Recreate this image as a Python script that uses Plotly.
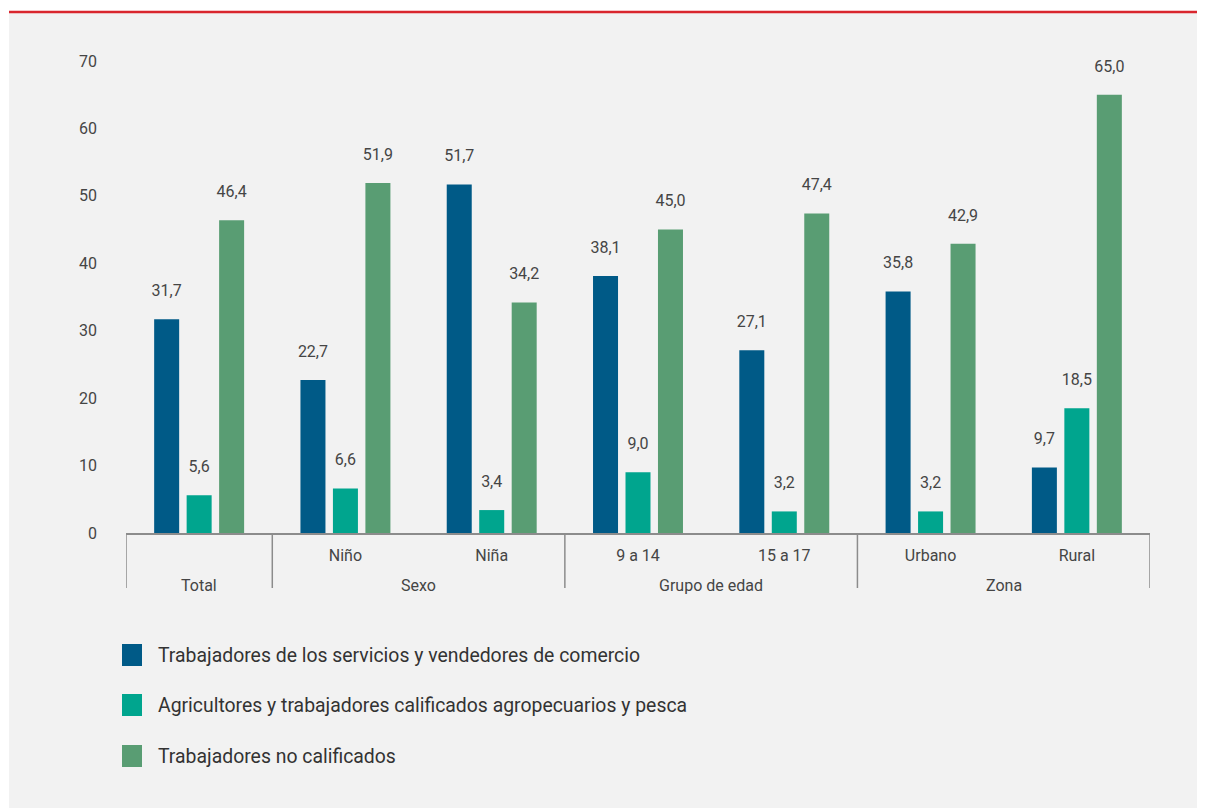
import plotly.graph_objects as go

# ---- data ----
groups = ["Total", "Sexo", "Sexo", "Grupo de edad", "Grupo de edad", "Zona", "Zona"]
categories = [" ", "Niño", "Niña", "9 a 14", "15 a 17", "Urbano", "Rural"]
series_names = [
    "Trabajadores de los servicios y vendedores de comercio",
    "Agricultores y trabajadores calificados agropecuarios y pesca",
    "Trabajadores no calificados",
]
servicios = [31.7, 22.7, 51.7, 38.1, 27.1, 35.8, 9.7]
agricultores = [5.6, 6.6, 3.4, 9.0, 3.2, 3.2, 18.5]
no_calificados = [46.4, 51.9, 34.2, 45.0, 47.4, 42.9, 65.0]
y_ticks = [0, 10, 20, 30, 40, 50, 60, 70]

colors = ["#005a87", "#00a58e", "#599d73"]
FONT = "Roboto, 'Open Sans', sans-serif"
TXT = "#454545"
AXC = "#8c8c8c"

# page body has an 8px margin: work in figure coordinates
W, H = 1197, 800
L, R, T, B = 118, 55, 53, 275
PW, PH = W - L - R, H - T - B
BARGAP = 0.334

def px_x(px):
    return (px - L) / PW

def px_y(py):
    return (H - B - py) / PH

fig = go.Figure()
for name, vals, col in zip(series_names, [servicios, agricultores, no_calificados], colors):
    fig.add_trace(go.Bar(
        x=categories, y=vals, name=name,
        marker=dict(color=col, line=dict(width=0)),
        showlegend=False, hoverinfo="skip",
    ))
for name, vals in zip(series_names, [servicios, agricultores, no_calificados]):
    fig.add_trace(go.Scatter(
        x=categories, y=vals, name=name + " (valor)", orientation="v",
        mode="markers+text", marker=dict(size=29, opacity=0),
        texttemplate="%{y:.1f}", textposition="top center",
        textfont=dict(family=FONT, size=16, color=TXT),
        cliponaxis=False, showlegend=False, hoverinfo="skip",
    ))

shapes = [
    dict(type="rect", xref="paper", yref="paper", layer="below",
         x0=px_x(1), x1=px_x(W + 5), y0=px_y(H + 5), y1=px_y(5),
         fillcolor="#f2f2f2", line=dict(width=0)),
    dict(type="line", xref="paper", yref="paper",
         x0=px_x(1), x1=px_x(W + 5), y0=px_y(4), y1=px_y(4),
         line=dict(color="#d9262e", width=2.5)),
]
annotations = []

# group separators and group labels
bounds = [-0.5]
for i in range(1, len(groups)):
    if groups[i] != groups[i - 1]:
        bounds.append(i - 0.5)
bounds.append(len(groups) - 0.5)
div_bottom = -55 / PH
for b in bounds:
    shapes.append(dict(type="line", xref="x", yref="paper", x0=b, x1=b,
                       y0=0, y1=div_bottom, line=dict(color=AXC, width=1.5)))
seen = []
for g in groups:
    if g not in seen:
        seen.append(g)
for g in seen:
    idx = [i for i, gg in enumerate(groups) if gg == g]
    annotations.append(dict(xref="x", yref="paper", x=sum(idx) / len(idx), y=-52 / PH,
                            xanchor="center", yanchor="middle", showarrow=False,
                            text=g, font=dict(family=FONT, size=16, color=TXT)))

# legend
legend_rows = [647, 697, 748]
for name, col, yc in zip(series_names, colors, legend_rows):
    shapes.append(dict(type="rect", xref="paper", yref="paper",
                       x0=px_x(114), x1=px_x(134), y0=px_y(yc + 11), y1=px_y(yc - 11),
                       fillcolor=col, line=dict(width=0)))
    annotations.append(dict(xref="paper", yref="paper", x=px_x(148), y=px_y(yc),
                            xanchor="left", yanchor="middle", showarrow=False,
                            text=name, font=dict(family=FONT, size=19.4, color="#333333")))

fig.update_layout(
    width=W, height=H,
    margin=dict(l=L, r=R, t=T, b=B, pad=0),
    paper_bgcolor="white", plot_bgcolor="rgba(0,0,0,0)",
    barmode="group", bargap=BARGAP, bargroupgap=0.23,
    scattermode="group", scattergap=BARGAP,
    separators=",.",
    font=dict(family=FONT, color=TXT),
    shapes=shapes, annotations=annotations,
    showlegend=False,
)
fig.update_yaxes(range=[0, 70], tickvals=y_ticks, showgrid=False, zeroline=False,
                 showline=False, ticks="", ticklabelstandoff=28,
                 tickfont=dict(family=FONT, size=16, color=TXT))
fig.update_xaxes(type="category", range=[-0.5, len(categories) - 0.5],
                 showline=True, linecolor=AXC, linewidth=1.5,
                 showgrid=False, zeroline=False, ticks="", ticklabelstandoff=7,
                 tickfont=dict(family=FONT, size=16, color=TXT))

fig.write_html("out.html")
